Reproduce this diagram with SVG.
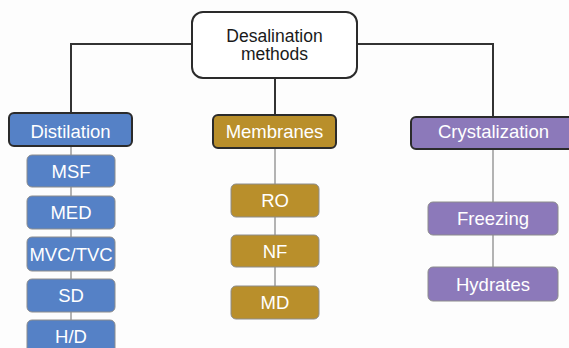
<svg xmlns="http://www.w3.org/2000/svg" width="569" height="348" viewBox="0 0 569 348">
<style>
text{font-family:"Liberation Sans",Arial,sans-serif;font-size:18.5px;text-anchor:middle}
.t{fill:#ffffff}
.r{fill:#1a1a1a;font-size:17.5px}
.main{stroke:#2b2b2b;stroke-width:2}
.sub{stroke:#8c8c8c;stroke-width:1}
.blue{fill:#5581c6}
.gold{fill:#b98f2b}
.purple{fill:#8c79ba}
.dk{fill:none;stroke:#333333;stroke-width:2}
.lt{fill:none;stroke:#9a9a9a;stroke-width:1.5}
</style>
<rect width="569" height="348" fill="#fdfdfd"/>
<g id="connectors">
<path class="dk" d="M192 44H71V113"/>
<path class="dk" d="M357 44H493V117"/>
<path class="dk" d="M275 78V115"/>
<path class="lt" d="M71 146V348"/>
<path class="lt" d="M275 148V286"/>
<path class="lt" d="M493 149V267"/>
</g>
<g id="root">
<rect x="192" y="12" width="165" height="66" rx="11" fill="#ffffff" stroke="#2b2b2b" stroke-width="2"/>
<text class="r" x="274.5" y="42">Desalination</text>
<text class="r" x="274.5" y="60">methods</text>
</g>
<g id="distilation">
<rect class="main blue" x="9" y="113" width="123" height="33" rx="5"/>
<text class="t" x="70.5" y="138">Distilation</text>
</g>
<g id="membranes">
<rect class="main gold" x="213" y="115" width="123" height="33" rx="5"/>
<text class="t" x="274.5" y="138">Membranes</text>
</g>
<g id="crystalization">
<rect class="main purple" x="411" y="117" width="165" height="32" rx="5"/>
<text class="t" x="493.5" y="138">Crystalization</text>
</g>
<g id="msf"><rect class="sub blue" x="27" y="155" width="88" height="32" rx="5"/><text class="t" x="71" y="177.5">MSF</text></g>
<g id="med"><rect class="sub blue" x="27" y="196" width="88" height="33" rx="5"/><text class="t" x="71" y="219">MED</text></g>
<g id="mvc"><rect class="sub blue" x="27" y="237" width="88" height="34" rx="5"/><text class="t" x="71" y="260.5">MVC/TVC</text></g>
<g id="sd"><rect class="sub blue" x="27" y="279" width="88" height="33" rx="5"/><text class="t" x="71" y="302">SD</text></g>
<g id="hd"><rect class="sub blue" x="27" y="320" width="88" height="33" rx="5"/><text class="t" x="71" y="343">H/D</text></g>
<g id="ro"><rect class="sub gold" x="231" y="184" width="88" height="33" rx="5"/><text class="t" x="275" y="207">RO</text></g>
<g id="nf"><rect class="sub gold" x="231" y="235" width="88" height="32" rx="5"/><text class="t" x="275" y="257.5">NF</text></g>
<g id="md"><rect class="sub gold" x="231" y="286" width="88" height="33" rx="5"/><text class="t" x="275" y="309">MD</text></g>
<g id="freezing"><rect class="sub purple" x="428" y="202" width="130" height="33" rx="5"/><text class="t" x="493" y="224.5">Freezing</text></g>
<g id="hydrates"><rect class="sub purple" x="428" y="267" width="130" height="34" rx="5"/><text class="t" x="493" y="290.5">Hydrates</text></g>
</svg>
